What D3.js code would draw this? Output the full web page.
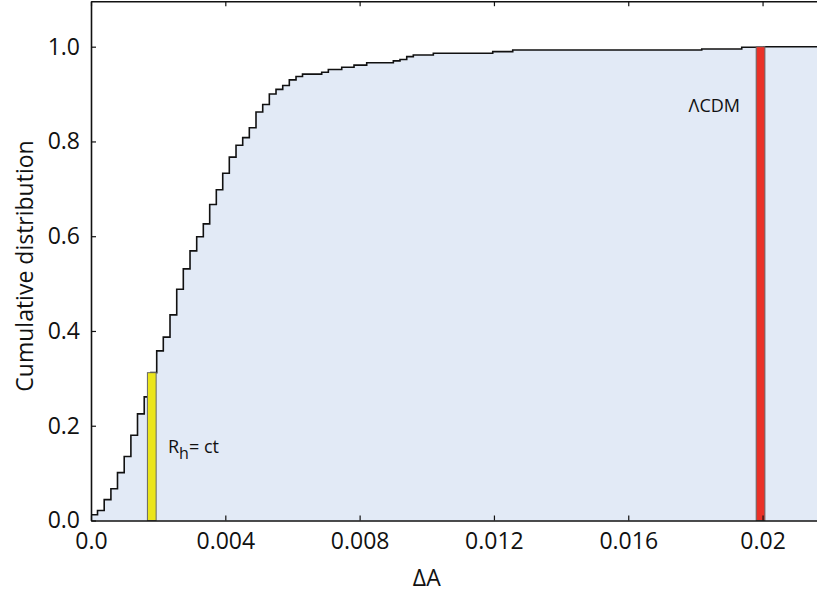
<!DOCTYPE html>
<html>
<head>
<meta charset="utf-8">
<script src="https://cdn.jsdelivr.net/npm/d3@7"></script>
<style>
  body { margin: 0; background: #fff; }
  svg { display: block; font-family: 'Open Sans', sans-serif; }
</style>
</head>
<body>
<svg id="chart"></svg>
<script>
// step positions (ΔA) and cumulative value reached at each step
const stepDeltaA = [
  0, 0.000194, 0.000393, 0.000593, 0.000789, 0.000989, 0.001188, 0.001385,
  0.001585, 0.001784, 0.001957, 0.002153, 0.002353, 0.002553, 0.002749,
  0.002949, 0.003148, 0.003345, 0.003535, 0.003732, 0.003923, 0.004119,
  0.004319, 0.004518, 0.004715, 0.004914, 0.005114, 0.005311, 0.00551,
  0.00571, 0.005906, 0.006106, 0.006299, 0.006871, 0.007068, 0.007467,
  0.007833, 0.008211, 0.009004, 0.009203, 0.009403, 0.009599, 0.010195,
  0.011964, 0.01256, 0.018189, 0.01938, 0.02004
]
const stepCumulative = [
  0.012, 0.021, 0.044, 0.067, 0.101, 0.135, 0.180, 0.225,
  0.261, 0.312, 0.358, 0.387, 0.434, 0.488, 0.531,
  0.569, 0.599, 0.626, 0.667, 0.698, 0.733, 0.767,
  0.792, 0.808, 0.829, 0.862, 0.878, 0.900, 0.910,
  0.918, 0.930, 0.937, 0.942, 0.946, 0.952, 0.9565,
  0.961, 0.966, 0.970, 0.973, 0.979, 0.9825, 0.986,
  0.9895, 0.993, 0.995, 0.9987, 1.0
]

// the two models marked on the plot
const modelDeltaA = [0.00181, 0.01994]
const modelCumulative = [0.312, 1.0]
const modelColors = ['#ebe51b', '#ea3127']

const xTicks = [0, 0.004, 0.008, 0.012, 0.016, 0.02]
const xTickLabels = ['0.0', '0.004', '0.008', '0.012', '0.016', '0.02']
const yTicks = [0, 0.2, 0.4, 0.6, 0.8, 1.0]
const yTickLabels = ['0.0', '0.2', '0.4', '0.6', '0.8', '1.0']

function drawCdf (svgRef, { size = { width: 817, height: 592 } } = {}) {
  const svg = d3.select(svgRef)
  svg.attr('width', size.width).attr('height', size.height)

  // SCALES
  const xMax = 0.0218
  const yMax = 1.096
  const x = d3.scaleLinear().domain([0, xMax]).range([91, 823])
  const y = d3.scaleLinear().domain([0, yMax]).range([520.5, 1.2])

  const points = stepDeltaA.map((d, i) => ({ x: d, v: stepCumulative[i] }))
  points.push({ x: xMax, v: stepCumulative[stepCumulative.length - 1] })

  // AREA + LINE
  const area = d3.area()
    .x(d => x(d.x))
    .y0(y(0))
    .y1(d => y(d.v))
    .curve(d3.curveStepAfter)
  const line = d3.line()
    .x(d => x(d.x))
    .y(d => y(d.v))
    .curve(d3.curveStepAfter)

  svg.append('path')
    .attr('d', area(points))
    .attr('fill', '#e2eaf6')

  svg.append('path')
    .attr('d', line(points))
    .attr('fill', 'none')
    .attr('stroke', '#111')
    .attr('stroke-width', 1.6)

  // MODEL BARS
  const barWidth = 0.00026
  svg.selectAll('.bar')
    .data(modelDeltaA)
    .enter()
    .append('rect')
    .attr('class', 'bar')
    .attr('x', d => x(d - barWidth / 2))
    .attr('width', x(barWidth) - x(0))
    .attr('y', (d, i) => y(modelCumulative[i]))
    .attr('height', (d, i) => y(0) - y(modelCumulative[i]))
    .attr('fill', (d, i) => modelColors[i])
    .attr('stroke', '#666')
    .attr('stroke-width', 1)

  // LABELS
  const rh = svg.append('text')
    .attr('x', 168)
    .attr('y', 453)
    .attr('font-size', 18)
    .attr('fill', '#111')
  rh.append('tspan').text('R')
  rh.append('tspan').attr('font-size', 16).attr('dy', 6).text('h')
  rh.append('tspan').attr('dy', -6).text('= ct')

  svg.append('text')
    .attr('x', 740)
    .attr('y', 112)
    .attr('text-anchor', 'end')
    .attr('font-size', 18)
    .attr('fill', '#111')
    .text('ΛCDM')

  // AXES (ticks point inward on all four sides)
  const fmtX = d => xTickLabels[xTicks.indexOf(d)]
  const fmtY = d => yTickLabels[yTicks.indexOf(d)]

  const axes = [
    { axis: d3.axisBottom(x).tickValues(xTicks).tickFormat(fmtX).tickPadding(12), t: `translate(0,${y(0)})` },
    { axis: d3.axisTop(x).tickValues(xTicks).tickFormat(''), t: `translate(0,${y(yMax)})` },
    { axis: d3.axisLeft(y).tickValues(yTicks).tickFormat(fmtY).tickPadding(11), t: `translate(${x(0)},0)` },
    { axis: d3.axisRight(y).tickValues(yTicks).tickFormat(''), t: `translate(${x(xMax)},0)` }
  ]
  axes.forEach(a => {
    const g = svg.append('g')
      .attr('transform', a.t)
      .call(a.axis.tickSizeInner(-5).tickSizeOuter(0))
    g.select('.domain').attr('stroke', '#111').attr('stroke-width', 1.6)
    g.selectAll('.tick line').attr('stroke', '#111').attr('stroke-width', 1.2)
    g.selectAll('.tick text')
      .attr('font-family', 'Open Sans, sans-serif')
      .attr('font-size', 23)
      .attr('fill', '#111')
  })

  // AXIS TITLES
  svg.append('text')
    .attr('transform', 'translate(33,266) rotate(-90)')
    .attr('text-anchor', 'middle')
    .attr('font-size', 23)
    .attr('fill', '#111')
    .text('Cumulative distribution')

  svg.append('text')
    .attr('x', x(0.01))
    .attr('y', 586)
    .attr('text-anchor', 'middle')
    .attr('font-size', 23)
    .attr('fill', '#111')
    .text('ΔA')
}

drawCdf(document.getElementById('chart'))
</script>
</body>
</html>
